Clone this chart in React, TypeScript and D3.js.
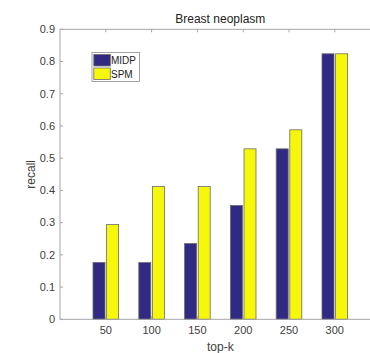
import React, { useEffect, useRef } from "react";
import * as d3 from "d3";

const categories = ["50", "100", "150", "200", "250", "300"];
const midp = [0.176, 0.176, 0.235, 0.353, 0.529, 0.824];
const spm = [0.294, 0.412, 0.412, 0.529, 0.588, 0.824];
const yTicks = [0, 0.1, 0.2, 0.3, 0.4, 0.5, 0.6, 0.7, 0.8, 0.9];
const seriesNames = ["MIDP", "SPM"];
const colors = ["#312a82", "#f7f70a"];

const App: React.FC = () => {
  const svgRef = useRef<SVGSVGElement | null>(null);

  useEffect(() => {
    if (!svgRef.current) return;
    const width = 370;
    const height = 353;
    const left = 60, top = 29.3, bottom = 319.3, right = 380.6;

    const svg = d3.select(svgRef.current);
    svg.selectAll("*").remove();
    svg.attr("width", width).attr("height", height);

    const x = d3.scaleLinear().domain([0, 7]).range([left, right]);
    const y = d3.scaleLinear().domain([0, 0.9]).range([bottom, top]);
    const barW = 12;
    const gap = 1.6;

    const font = "Helvetica, 'Liberation Sans', Arial, sans-serif";
    const textCol = "#404040";
    const axisCol = "#a6a6a6";

    // bars
    const series = [midp, spm];
    series.forEach((vals, s) => {
      svg.append("g")
        .selectAll("rect")
        .data(vals)
        .join("rect")
        .attr("x", (_d, i) => x(i + 1) + (s === 0 ? -barW - gap / 2 : gap / 2))
        .attr("y", d => y(d))
        .attr("width", barW)
        .attr("height", d => y(0) - y(d))
        .attr("fill", colors[s])
        .attr("stroke", "#6b6b6b")
        .attr("stroke-width", 0.8);
    });

    // axes lines
    const g = svg.append("g").attr("stroke", axisCol).attr("stroke-width", 1).attr("fill", "none");
    g.append("line").attr("x1", left).attr("x2", right).attr("y1", bottom).attr("y2", bottom);
    g.append("line").attr("x1", left).attr("x2", right).attr("y1", top).attr("y2", top);
    g.append("line").attr("x1", left).attr("x2", left).attr("y1", top).attr("y2", bottom);

    // y ticks
    g.selectAll(".yt")
      .data(yTicks)
      .join("line")
      .attr("x1", left).attr("x2", left + 3)
      .attr("y1", d => y(d)).attr("y2", d => y(d));
    // x ticks (bottom and top)
    const xIdx = categories.map((_c, i) => i + 1);
    g.selectAll(".xb")
      .data(xIdx)
      .join("line")
      .attr("x1", d => x(d)).attr("x2", d => x(d))
      .attr("y1", bottom).attr("y2", bottom - 3);
    svg.append("g").attr("stroke", axisCol)
      .selectAll("line")
      .data(xIdx)
      .join("line")
      .attr("x1", d => x(d)).attr("x2", d => x(d))
      .attr("y1", top).attr("y2", top + 3);

    // y tick labels
    svg.append("g")
      .attr("font-family", font).attr("font-size", 11).attr("fill", textCol)
      .attr("text-anchor", "end")
      .selectAll("text")
      .data(yTicks)
      .join("text")
      .attr("x", left - 5)
      .attr("y", d => y(d))
      .attr("dy", "0.35em")
      .text(d => (d === 0 ? "0" : d3.format(".1f")(d)));

    // x tick labels
    svg.append("g")
      .attr("font-family", font).attr("font-size", 11).attr("fill", textCol)
      .attr("text-anchor", "middle")
      .selectAll("text")
      .data(categories)
      .join("text")
      .attr("x", (_d, i) => x(i + 1))
      .attr("y", 334)
      .text(d => d);

    // axis titles
    svg.append("text")
      .attr("font-family", font).attr("font-size", 12).attr("fill", textCol)
      .attr("text-anchor", "middle")
      .attr("x", (left + right) / 2).attr("y", 351)
      .text("top-k");
    svg.append("text")
      .attr("font-family", font).attr("font-size", 12).attr("fill", textCol)
      .attr("text-anchor", "middle")
      .attr("transform", `translate(35,${(top + bottom) / 2}) rotate(-90)`)
      .text("recall");
    svg.append("text")
      .attr("font-family", font).attr("font-size", 12).attr("fill", "#222")
      .attr("text-anchor", "middle")
      .attr("x", (left + right) / 2).attr("y", 23)
      .text("Breast neoplasm");

    // legend
    const lg = svg.append("g").attr("transform", "translate(92,52.5)");
    lg.append("rect").attr("width", 47.5).attr("height", 29).attr("fill", "#fff")
      .attr("stroke", "#8c8c8c").attr("stroke-width", 0.8);
    seriesNames.forEach((name, i) => {
      lg.append("rect")
        .attr("x", 1.8).attr("y", 2 + i * 13.5)
        .attr("width", 16.5).attr("height", 11.5)
        .attr("fill", colors[i]).attr("stroke", "#6b6b6b").attr("stroke-width", 0.8);
      lg.append("text")
        .attr("x", 19).attr("y", 8 + i * 13.5)
        .attr("dy", "0.35em")
        .attr("font-family", font).attr("font-size", 10).attr("fill", "#222")
        .text(name);
    });
  }, []);

  return (
    <svg ref={svgRef} style={{ position: "absolute", left: 0, top: 0, background: "#fff" }} />
  );
};

export default App;
